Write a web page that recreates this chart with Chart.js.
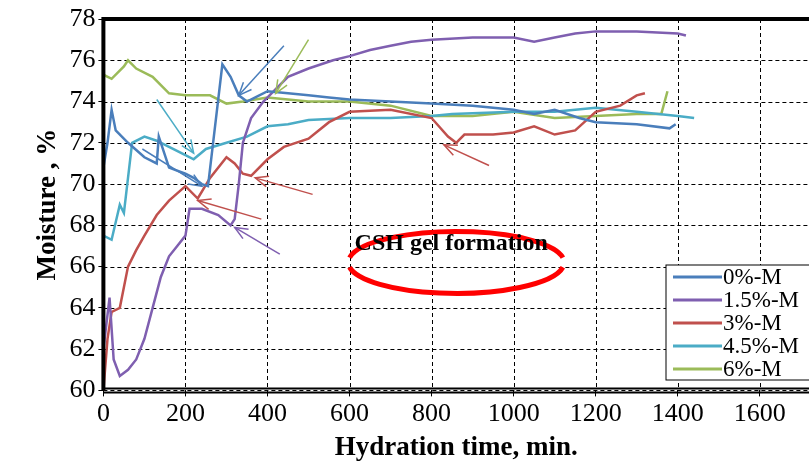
<!DOCTYPE html>
<html><head><meta charset="utf-8">
<script src="https://cdn.jsdelivr.net/npm/chart.js@4"></script>
<style>body{margin:0;background:#fff}#w{width:809px;height:473px}</style>
</head><body><div id="w"><canvas id="c"></canvas></div>
<script>
const seriesNames = ['0%-M', '1.5%-M', '3%-M', '4.5%-M', '6%-M'];
const seriesColors = ['#4a7ebb', '#7f5fb0', '#c0504d', '#4bacc6', '#9bbb59'];
const xTicks = [0, 200, 400, 600, 800, 1000, 1200, 1400, 1600];

const m0x = [0,10,20,30,60,100,130,135,160,200,220,240,255,290,310,330,350,380,400,450,500,550,600,700,800,900,1000,1050,1100,1160,1200,1300,1380,1395];
const m0y = [70.8,72,73.6,72.6,72,71.3,71,72.3,70.8,70.5,70.3,70,69.9,75.8,75.2,74.3,74,74.3,74.5,74.4,74.3,74.2,74.1,74,73.9,73.8,73.6,73.4,73.6,73.2,73,72.9,72.7,72.9];
const m15x = [0,15,25,40,60,80,100,120,140,160,180,200,210,240,280,310,320,330,340,360,390,420,450,500,560,600,650,700,750,800,900,1000,1050,1100,1150,1200,1300,1400,1420];
const m15y = [62,64.5,61.5,60.7,61,61.5,62.5,64,65.5,66.5,67,67.5,68.8,68.8,68.5,68,68.3,70,72,73.2,74,74.6,75.2,75.6,76,76.2,76.5,76.7,76.9,77,77.1,77.1,76.9,77.1,77.3,77.4,77.4,77.3,77.2];
const m3x = [0,10,20,40,60,80,100,130,160,200,230,260,300,320,340,360,400,440,500,550,600,700,800,840,860,880,950,1000,1050,1100,1150,1200,1260,1300,1320];
const m3y = [60,62.5,63.8,64,66,66.8,67.5,68.5,69.2,69.9,69.3,70.3,71.3,71,70.5,70.4,71.2,71.8,72.2,73,73.5,73.6,73.2,72.3,72,72.4,72.4,72.5,72.8,72.4,72.6,73.5,73.8,74.3,74.4];
const m45x = [0,20,40,50,70,100,130,160,200,220,250,300,350,400,450,500,600,700,800,850,1000,1100,1200,1300,1400,1440];
const m45y = [67.5,67.3,69,68.6,72,72.3,72.1,71.8,71.4,71.2,71.7,72,72.3,72.8,72.9,73.1,73.2,73.2,73.3,73.4,73.5,73.5,73.7,73.5,73.3,73.2];
const m6x = [0,20,50,60,80,120,160,200,260,300,340,400,500,600,700,800,900,1000,1100,1200,1300,1360,1375];
const m6y = [75.3,75.1,75.7,76,75.6,75.2,74.4,74.3,74.3,73.9,74,74.2,74,74,73.8,73.3,73.3,73.5,73.2,73.3,73.4,73.4,74.5];

// arrows: [fromX, fromY, toX, toY, colour index]
const arrows = [
  [940, 70.9, 830, 71.9, 2], [510, 69.5, 370, 70.3, 2], [385, 68.3, 230, 69.2, 2],
  [430, 66.6, 320, 67.9, 1], [95, 71.7, 240, 69.9, 0], [440, 76.7, 330, 74.3, 0],
  [130, 74.1, 220, 71.5, 3], [500, 77, 420, 74.4, 4]
];
const xs = [m0x, m15x, m3x, m45x, m6x], ys = [m0y, m15y, m3y, m45y, m6y];

const dashGrid = {
  id: 'dashGrid',
  beforeDatasetsDraw(ch) {
    const c = ch.ctx, x = ch.scales.x, y = ch.scales.y, a = ch.chartArea;
    c.save();
    c.strokeStyle = '#000'; c.lineWidth = 1; c.setLineDash([4, 3]);
    c.beginPath();
    xTicks.forEach(v => { const p = Math.round(x.getPixelForValue(v)) + 0.5; c.moveTo(p, a.top); c.lineTo(p, a.bottom); });
    y.ticks.forEach(t => { const p = Math.round(y.getPixelForValue(t.value)) + 0.5; c.moveTo(a.left, p); c.lineTo(a.right, p); });
    c.stroke();
    c.restore();
  }
};

const deco = {
  id: 'deco',
  afterDatasetsDraw(ch) {
    const c = ch.ctx, x = ch.scales.x, y = ch.scales.y, a = ch.chartArea;
    c.save();
    arrows.forEach(r => {
      const x1 = x.getPixelForValue(r[0]), y1 = y.getPixelForValue(r[1]);
      const x2 = x.getPixelForValue(r[2]), y2 = y.getPixelForValue(r[3]);
      c.strokeStyle = seriesColors[r[4]]; c.lineWidth = 1.5;
      c.beginPath(); c.moveTo(x1, y1); c.lineTo(x2, y2); c.stroke();
      const ang = Math.atan2(y2 - y1, x2 - x1);
      c.beginPath();
      c.moveTo(x2 - 14 * Math.cos(ang - 0.4), y2 - 14 * Math.sin(ang - 0.4));
      c.lineTo(x2, y2);
      c.lineTo(x2 - 14 * Math.cos(ang + 0.4), y2 - 14 * Math.sin(ang + 0.4));
      c.stroke();
    });
    // ellipse
    const ex = x.getPixelForValue(860), ey = y.getPixelForValue(66.2);
    c.strokeStyle = '#ff0000'; c.lineWidth = 5;
    c.beginPath(); c.ellipse(ex, ey, 108, 31, 0, Math.PI * 1.05, Math.PI * 1.95); c.stroke();
    c.beginPath(); c.ellipse(ex, ey, 108, 31, 0, Math.PI * 0.05, Math.PI * 0.95); c.stroke();
    c.fillStyle = '#000'; c.font = 'bold 24px "Liberation Serif"';
    c.textAlign = 'center'; c.textBaseline = 'middle';
    c.fillText('CSH gel formation', ex - 5, ey - 19);
    // frame
    c.strokeStyle = '#000'; c.lineWidth = 4;
    c.beginPath(); c.moveTo(a.left, a.bottom); c.lineTo(a.left, a.top); c.lineTo(a.right + 5, a.top); c.stroke();
    c.lineWidth = 2;
    c.beginPath(); c.moveTo(a.left, a.bottom - 2); c.lineTo(a.right + 5, a.bottom - 2);
    c.moveTo(a.left, a.bottom + 2); c.lineTo(a.right + 5, a.bottom + 2); c.stroke();
    // legend
    const lx = 666, ly = 265;
    c.fillStyle = '#fff'; c.fillRect(lx, ly, 150, 115);
    c.lineWidth = 1; c.strokeRect(lx, ly, 150, 115);
    c.font = '23px "Liberation Serif"'; c.textAlign = 'left';
    seriesNames.forEach((n, i) => {
      const yy = ly + 12 + i * 23;
      c.strokeStyle = seriesColors[i]; c.lineWidth = 3;
      c.beginPath(); c.moveTo(lx + 7, yy); c.lineTo(lx + 56, yy); c.stroke();
      c.fillStyle = '#000'; c.fillText(n, lx + 57, yy + 1);
    });
    c.restore();
  }
};

new Chart(document.getElementById('c'), {
  type: 'line',
  data: {
    datasets: seriesNames.map((n, i) => ({
      label: n,
      data: xs[i].map((v, k) => ({x: v, y: ys[i][k]})),
      borderColor: seriesColors[i], borderWidth: 2.5, pointRadius: 0, tension: 0
    }))
  },
  options: {
    responsive: true, maintainAspectRatio: false, animation: false,
    layout: {padding: {top: 19, right: 0, bottom: 5, left: 28}},
    plugins: {legend: {display: false}, tooltip: {enabled: false}},
    scales: {
      x: {
        type: 'linear', min: 0, max: 1720,
        afterBuildTicks: s => { s.ticks = xTicks.map(v => ({value: v})); },
        grid: {color: '#000', lineWidth: 1, tickLength: 6, drawOnChartArea: false},
        border: {display: false},
        ticks: {color: '#000', font: {family: 'Liberation Serif', size: 26}, maxRotation: 0, padding: 2, callback: v => String(v)},
        title: {display: true, text: 'Hydration time, min.', color: '#000', font: {family: 'Liberation Serif', size: 27, weight: 'bold'}, padding: {top: 0}}
      },
      y: {
        min: 60, max: 78,
        ticks: {stepSize: 2, color: '#000', font: {family: 'Liberation Serif', size: 26}, padding: 3},
        grid: {color: '#000', lineWidth: 1, tickLength: 5, drawOnChartArea: false},
        border: {display: false},
        title: {display: true, text: 'Moisture , %', color: '#000', font: {family: 'Liberation Serif', size: 27, weight: 'bold'}, padding: {bottom: 2}}
      }
    }
  },
  plugins: [dashGrid, deco]
});
</script></body></html>
